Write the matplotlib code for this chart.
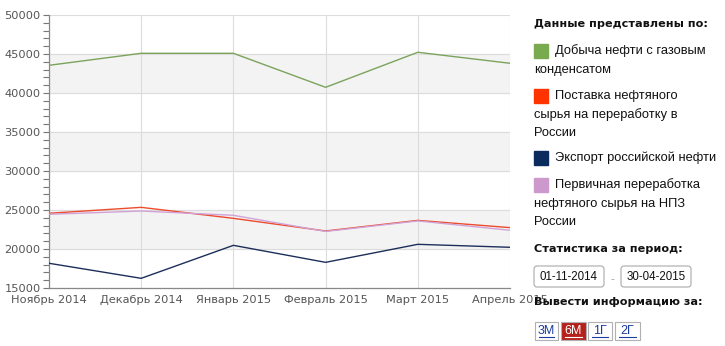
import numpy as np
import matplotlib.pyplot as plt
from matplotlib.patches import Rectangle, FancyBboxPatch
from matplotlib.ticker import MultipleLocator

months = ['Ноябрь 2014', 'Декабрь 2014', 'Январь 2015', 'Февраль 2015', 'Март 2015', 'Апрель 2015']

# тыс. тонн по месяцам
production = [43550, 45090, 45090, 40730, 45220, 43810]
supply = [24580, 25340, 23930, 22310, 23670, 22740]
export = [18170, 16240, 20470, 18290, 20600, 20220]
refining = [24450, 24870, 24320, 22250, 23600, 22400]

series = [
    ('Добыча нефти с газовым\nконденсатом', production, '#7ba35b', '#7aaa4f'),
    ('Поставка нефтяного\nсырья на переработку в\nРоссии', supply, '#ee4a2c', '#ff3300'),
    ('Экспорт российской нефти', export, '#1c2f5a', '#0b2a5e'),
    ('Первичная переработка\nнефтяного сырья на НПЗ\nРоссии', refining, '#d0a3d6', '#cc99cc'),
]

W, H = 725, 346
fig = plt.figure(figsize=(W / 100, H / 100), dpi=100)

# область графика
ax = fig.add_axes([49 / W, 1 - 288 / H, (510 - 49) / W, (288 - 15) / H])
x = np.arange(len(months))
ax.set_xlim(0, len(months) - 1)
ax.set_ylim(15000, 50000)

for lo in (20000, 30000, 40000):
    ax.axhspan(lo, lo + 5000, color='#f3f3f3', zorder=0)
ax.grid(True, color='#dcdcdc', linewidth=0.8, zorder=1)
ax.set_axisbelow(True)

for name, vals, lc, _ in series:
    ax.plot(x, vals, color=lc, linewidth=1.0, zorder=3)

ax.yaxis.set_major_locator(MultipleLocator(5000))
ax.yaxis.set_minor_locator(MultipleLocator(1000))
ax.set_xticks(x)
ax.set_xticklabels(months)
ax.tick_params(axis='y', which='both', direction='out', length=4, width=0.8,
               color='#777777', labelsize=8.2, labelcolor='#555555', pad=2)
ax.tick_params(axis='x', length=0, labelsize=8.2, labelcolor='#555555', pad=5)
for s in ('top', 'right'):
    ax.spines[s].set_visible(False)
for s in ('left', 'bottom'):
    ax.spines[s].set_color('#888888')
    ax.spines[s].set_linewidth(0.9)

# правая панель с легендой и фильтрами
pan = fig.add_axes([0, 0, 1, 1], zorder=5)
pan.set_xlim(0, W)
pan.set_ylim(H, 0)
pan.axis('off')

font = dict(family='Liberation Sans', fontsize=9.3, color='#111111', va='center')
bold = dict(family='DejaVu Sans', fontsize=8.1, fontweight='bold', color='#111111', va='center')

pan.text(534, 24, 'Данные представлены по:', **bold)

leg_y = [51, 96, 158, 185]
for (name, vals, lc, sc), y0 in zip(series, leg_y):
    pan.add_patch(Rectangle((534, y0 - 7), 14, 14, color=sc))
    lines = name.split('\n')
    pan.text(555, y0, lines[0], **font)
    for i, ln in enumerate(lines[1:], 1):
        pan.text(534, y0 + 18.5 * i, ln, **font)

pan.text(534, 249, 'Статистика за период:', **bold)
for bx, label in ((534, '01-11-2014'), (621, '30-04-2015')):
    pan.add_patch(FancyBboxPatch((bx, 266), 70, 21, boxstyle='round,pad=0,rounding_size=3',
                                 facecolor='white', edgecolor='#aaaaaa', linewidth=0.8))
    pan.text(bx + 35, 277, label, ha='center', va='center', family='Liberation Sans',
             fontsize=8.3, color='#111111')
pan.text(612, 279, '-', ha='center', family='Liberation Sans', fontsize=8, color='#999999', va='center')

pan.text(534, 302, 'Вывести информацию за:', **bold)
buttons = [('3М', 535, 23, False), ('6М', 561, 25, True), ('1Г', 588, 24, False), ('2Г', 615, 25, False)]
for label, bx, bw, active in buttons:
    pan.add_patch(Rectangle((bx, 322), bw, 18, facecolor='#b5221c' if active else 'white',
                            edgecolor='#b0b0b0', linewidth=0.8))
    tc = 'white' if active else '#1a3c9c'
    pan.text(bx + bw / 2, 331, label, ha='center', va='center', family='Liberation Sans',
             fontsize=9, color=tc)
    pan.plot([bx + 4, bx + bw - 4], [337, 337], color=tc, linewidth=0.8)

fig.savefig('out.png', dpi=100)
